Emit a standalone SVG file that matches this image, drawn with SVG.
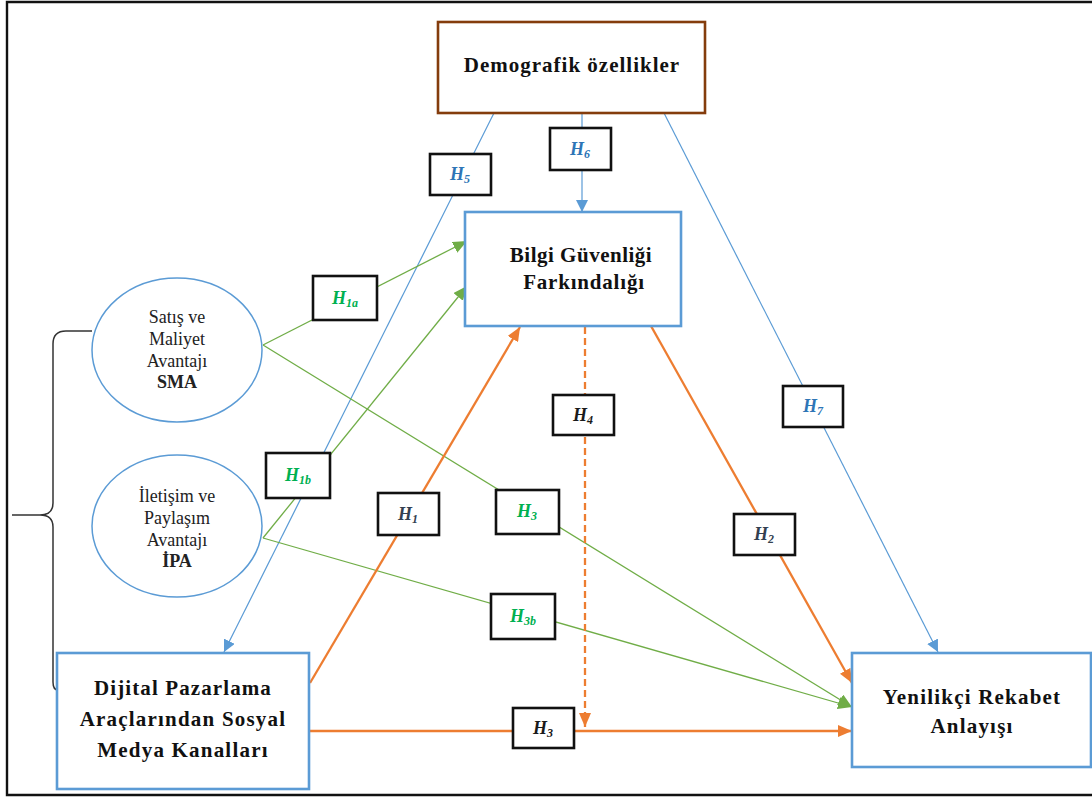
<svg xmlns="http://www.w3.org/2000/svg" width="1092" height="798" viewBox="0 0 1092 798">
  <style>
    .title { font-family: "Liberation Serif", "Times New Roman", serif; font-weight: bold; font-size: 21px; fill: #111; text-anchor: middle; letter-spacing: 1px; }
    .oval-text { font-family: "Liberation Serif", "Times New Roman", serif; font-size: 18px; fill: #222; text-anchor: middle; }
    .oval-text .b { font-weight: bold; }
    .lbl-box { fill: #fff; stroke: #111; stroke-width: 2.6; }
    .lbl { font-family: "Liberation Serif", "Times New Roman", serif; font-weight: bold; font-style: italic; font-size: 18px; text-anchor: middle; }
    .sub { font-size: 12px; }
    .c-blue { fill: #2E75B6; }
    .c-green { fill: #00B050; }
    .c-slate { fill: #333F50; }
    .c-black { fill: #1a1a1a; }
    .node-blue { fill: #fff; stroke: #5B9BD5; stroke-width: 2.6; }
    .node-brown { fill: #fff; stroke: #843C0C; stroke-width: 2.6; }
    .ellipse { fill: #fff; stroke: #5B9BD5; stroke-width: 1.5; }
    .ln-blue { fill: none; stroke: #5B9BD5; stroke-width: 1.2; marker-end: url(#arrBlue); }
    .ln-green { fill: none; stroke: #70AD47; stroke-width: 1.3; marker-end: url(#arrGreen); }
    .ln-orange { fill: none; stroke: #ED7D31; stroke-width: 2.3; marker-end: url(#arrOrange); }
    .ln-dash { stroke-dasharray: 7 4; }
  </style>
  <defs>
    <marker id="arrBlue" markerUnits="userSpaceOnUse" markerWidth="12" markerHeight="12" refX="12" refY="6" orient="auto">
      <path d="M0,0 L12,6 L0,12 z" fill="#5B9BD5"/>
    </marker>
    <marker id="arrGreen" markerUnits="userSpaceOnUse" markerWidth="14" markerHeight="12" refX="14" refY="6" orient="auto">
      <path d="M0,0 L14,6 L0,12 z" fill="#70AD47"/>
    </marker>
    <marker id="arrOrange" markerUnits="userSpaceOnUse" markerWidth="14" markerHeight="12" refX="14" refY="6" orient="auto">
      <path d="M0,0 L14,6 L0,12 z" fill="#ED7D31"/>
    </marker>
  </defs>

  <rect width="1092" height="798" fill="#fff"/>
  <!-- outer frame (open on the right) -->
  <path d="M1092,2 H7 V795 H1092" fill="none" stroke="#111" stroke-width="2.4"/>

  <!-- brace grouping the two advantage dimensions -->
  <path id="brace" d="M92,331 H66 Q53,331 53,344 V503 Q53,515 40,515 H12 H40 Q53,515 53,527 V682 Q53,690 58,690" fill="none" stroke="#333" stroke-width="1.5"/>

  <!-- connectors -->
  <g id="connectors">
    <line id="e-h5" class="ln-blue" x1="494" y1="113" x2="224" y2="652"/>
    <line id="e-h6" class="ln-blue" x1="582" y1="113" x2="582" y2="212"/>
    <line id="e-h7" class="ln-blue" x1="664" y1="113" x2="938" y2="652"/>
    <line id="e-h1a" class="ln-green" x1="263" y1="345" x2="467" y2="241"/>
    <line id="e-h1b" class="ln-green" x1="263" y1="538" x2="467" y2="286"/>
    <line id="e-h3g" class="ln-green" x1="263" y1="345" x2="852" y2="707"/>
    <line id="e-h3b" class="ln-green" x1="263" y1="538" x2="852" y2="707"/>
    <line id="e-h1" class="ln-orange" x1="310" y1="683" x2="520" y2="327"/>
    <line id="e-h2" class="ln-orange" x1="651" y1="326" x2="852" y2="683"/>
    <line id="e-h3" class="ln-orange" x1="309" y1="731" x2="852" y2="731"/>
    <line id="e-h4" class="ln-orange ln-dash" x1="585" y1="327" x2="585" y2="727"/>
  </g>

  <!-- hypothesis labels on the connectors -->
  <g id="labels">
    <g id="lbl-h5"><rect class="lbl-box" x="430" y="154" width="61" height="41"/><text class="lbl c-blue" x="460" y="180">H<tspan class="sub" dy="3">5</tspan></text></g>
    <g id="lbl-h6"><rect class="lbl-box" x="550" y="128" width="61" height="42"/><text class="lbl c-blue" x="580" y="155">H<tspan class="sub" dy="3">6</tspan></text></g>
    <g id="lbl-h7"><rect class="lbl-box" x="783" y="386" width="60" height="41"/><text class="lbl c-blue" x="813" y="412">H<tspan class="sub" dy="3">7</tspan></text></g>
    <g id="lbl-h1a"><rect class="lbl-box" x="313" y="276" width="64" height="44"/><text class="lbl c-green" x="345" y="304">H<tspan class="sub" dy="3">1a</tspan></text></g>
    <g id="lbl-h1b"><rect class="lbl-box" x="266" y="453" width="64" height="45"/><text class="lbl c-green" x="298" y="481">H<tspan class="sub" dy="3">1b</tspan></text></g>
    <g id="lbl-h3g"><rect class="lbl-box" x="496" y="490" width="63" height="44"/><text class="lbl c-green" x="527" y="517">H<tspan class="sub" dy="3">3</tspan></text></g>
    <g id="lbl-h3b"><rect class="lbl-box" x="491" y="594" width="64" height="45"/><text class="lbl c-green" x="523" y="622">H<tspan class="sub" dy="3">3b</tspan></text></g>
    <g id="lbl-h1"><rect class="lbl-box" x="378" y="493" width="61" height="42"/><text class="lbl c-slate" x="408" y="520">H<tspan class="sub" dy="3">1</tspan></text></g>
    <g id="lbl-h2"><rect class="lbl-box" x="734" y="514" width="61" height="41"/><text class="lbl c-slate" x="764" y="540">H<tspan class="sub" dy="3">2</tspan></text></g>
    <g id="lbl-h4"><rect class="lbl-box" x="553" y="395" width="61" height="40"/><text class="lbl c-black" x="583" y="421">H<tspan class="sub" dy="3">4</tspan></text></g>
    <g id="lbl-h3"><rect class="lbl-box" x="513" y="708" width="61" height="40"/><text class="lbl c-black" x="543" y="734">H<tspan class="sub" dy="3">3</tspan></text></g>
  </g>

  <!-- nodes -->
  <g id="node-demografik">
    <rect class="node-brown" x="438" y="22" width="267" height="91"/>
    <text class="title" x="572" y="72">Demografik özellikler</text>
  </g>

  <g id="node-bilgi">
    <rect class="node-blue" x="465" y="212" width="216" height="114"/>
    <text class="title" x="581" y="262" style="letter-spacing:0.5px">Bilgi Güvenliği</text>
    <text class="title" x="584" y="289" style="letter-spacing:0.8px">Farkındalığı</text>
  </g>

  <g id="node-sma">
    <ellipse class="ellipse" cx="177" cy="350" rx="85" ry="72"/>
    <text class="oval-text" x="177" y="323">Satış ve</text>
    <text class="oval-text" x="177" y="345">Maliyet</text>
    <text class="oval-text" x="177" y="367">Avantajı</text>
    <text class="oval-text" x="177" y="388"><tspan class="b">SMA</tspan></text>
  </g>

  <g id="node-ipa">
    <ellipse class="ellipse" cx="177" cy="526" rx="85" ry="71"/>
    <text class="oval-text" x="177" y="502">İletişim ve</text>
    <text class="oval-text" x="177" y="524">Paylaşım</text>
    <text class="oval-text" x="177" y="546">Avantajı</text>
    <text class="oval-text" x="177" y="567"><tspan class="b">İPA</tspan></text>
  </g>

  <g id="node-dijital">
    <rect class="node-blue" x="57" y="653" width="252" height="136"/>
    <text class="title" x="183" y="695" style="letter-spacing:1.1px">Dijital Pazarlama</text>
    <text class="title" x="183" y="726" style="letter-spacing:1.2px">Araçlarından Sosyal</text>
    <text class="title" x="183" y="757" style="letter-spacing:1.2px">Medya Kanalları</text>
  </g>

  <g id="node-yenilikci">
    <rect class="node-blue" x="852" y="653" width="239" height="114"/>
    <text class="title" x="972" y="704" style="letter-spacing:1.2px">Yenilikçi Rekabet</text>
    <text class="title" x="972" y="733" style="letter-spacing:1.2px">Anlayışı</text>
  </g>
</svg>
